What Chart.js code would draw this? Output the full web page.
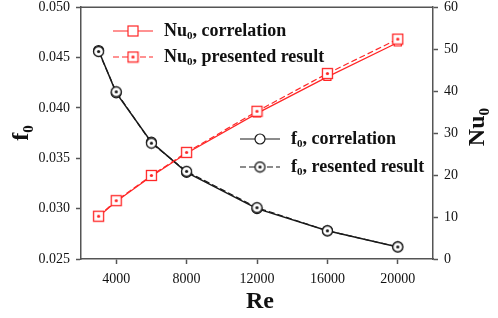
<!DOCTYPE html>
<html>
<head>
<meta charset="utf-8">
<script src="https://cdn.jsdelivr.net/npm/chart.js@4.4.1/dist/chart.umd.min.js"></script>
<style>
  html, body { margin: 0; padding: 0; background: #fff; }
  #wrap { width: 498px; height: 318px; }
</style>
</head>
<body>
<div id="wrap"><canvas id="graph"></canvas></div>
<script>
// Re values and tick labels
const reValues = [3000, 4000, 6000, 8000, 12000, 16000, 20000];
const reTicks = [4000, 8000, 12000, 16000, 20000];
const fTicks = [0.025, 0.030, 0.035, 0.040, 0.045, 0.050];
const nuTicks = [0, 10, 20, 30, 40, 50, 60];

// series
const nuCorrelation = [10.1, 13.7, 19.7, 25.2, 34.7, 43.4, 51.6];
const nuPresented = [10.2, 13.9, 19.9, 25.4, 35.2, 44.2, 52.4];
const fCorrelation = [0.0457, 0.0415, 0.0366, 0.0336, 0.0300, 0.0278, 0.0262];
const fPresented = [0.0456, 0.0416, 0.0365, 0.0337, 0.0301, 0.0278, 0.0262];

const red = '#ff2626';
const black = '#1a1a1a';
const serif = '"Liberation Serif", "Times New Roman", serif';

function pts(ys) {
  return reValues.map((x, i) => ({x: x, y: ys[i]}));
}

// marker with a dot in the middle
function dotMarker(color, shape) {
  let c = document.createElement('canvas');
  c.width = 13; c.height = 13;
  let g = c.getContext('2d');
  g.fillStyle = '#fff';
  g.strokeStyle = color;
  g.lineWidth = 1.3;
  if (shape == 'rect') {
    g.fillRect(1.5, 1.5, 10, 10);
    g.strokeRect(1.5, 1.5, 10, 10);
  } else {
    g.beginPath(); g.arc(6.5, 6.5, 5, 0, Math.PI * 2); g.fill(); g.stroke();
  }
  g.fillStyle = color;
  g.beginPath(); g.arc(6.5, 6.5, 1.6, 0, Math.PI * 2); g.fill();
  return c;
}
const redDot = dotMarker(red, 'rect');
const blackDot = dotMarker(black, 'circle');

// text with a subscript, draws left to right from x
function subText(ctx, x, y, base, sub, rest, size) {
  ctx.font = 'bold ' + size + 'px ' + serif;
  ctx.fillText(base, x, y);
  x += ctx.measureText(base).width;
  ctx.font = 'bold ' + Math.round(size * 0.62) + 'px ' + serif;
  ctx.fillText(sub, x, y + size * 0.28);
  x += ctx.measureText(sub).width;
  ctx.font = 'bold ' + size + 'px ' + serif;
  ctx.fillText(rest, x, y);
  return x + ctx.measureText(rest).width;
}
function subWidth(ctx, base, sub, rest, size) {
  ctx.font = 'bold ' + size + 'px ' + serif;
  let w = ctx.measureText(base + rest).width;
  ctx.font = 'bold ' + Math.round(size * 0.62) + 'px ' + serif;
  return w + ctx.measureText(sub).width;
}

const legendItems = [
  {x: 113, y: 31, color: red, dash: [], marker: 'rect', base: 'Nu', rest: ', correlation'},
  {x: 113, y: 57, color: red, dash: [6, 3], marker: redDot, base: 'Nu', rest: ', presented result'},
  {x: 240, y: 139, color: black, dash: [], marker: 'circle', base: 'f', rest: ', correlation'},
  {x: 240, y: 167, color: black, dash: [6, 3], marker: blackDot, base: 'f', rest: ', resented result'}
];

const decor = {
  id: 'decor',
  afterDraw(chart) {
    let ctx = chart.ctx;
    let a = chart.chartArea;
    ctx.save();
    // top border
    ctx.strokeStyle = '#555';
    ctx.lineWidth = 1.5;
    ctx.beginPath(); ctx.moveTo(a.left, a.top); ctx.lineTo(a.right, a.top); ctx.stroke();

    // legend
    legendItems.forEach(it => {
      ctx.strokeStyle = it.color;
      ctx.lineWidth = 1.2;
      ctx.setLineDash(it.dash);
      ctx.beginPath(); ctx.moveTo(it.x, it.y); ctx.lineTo(it.x + 40, it.y); ctx.stroke();
      ctx.setLineDash([]);
      let mx = it.x + 20;
      if (it.marker === 'rect') {
        ctx.fillStyle = '#fff';
        ctx.fillRect(mx - 5, it.y - 5, 10, 10);
        ctx.strokeRect(mx - 5, it.y - 5, 10, 10);
      } else if (it.marker === 'circle') {
        ctx.fillStyle = '#fff';
        ctx.beginPath(); ctx.arc(mx, it.y, 5, 0, Math.PI * 2); ctx.fill(); ctx.stroke();
      } else {
        ctx.drawImage(it.marker, mx - 6.5, it.y - 6.5);
      }
      ctx.fillStyle = '#111';
      ctx.textBaseline = 'middle';
      ctx.textAlign = 'left';
      subText(ctx, it.x + 51, it.y, it.base, '0', it.rest, 18);
    });

    // axis titles
    ctx.fillStyle = '#111';
    ctx.textBaseline = 'middle';
    ctx.textAlign = 'left';
    ctx.font = 'bold 24px ' + serif;
    let w = ctx.measureText('Re').width;
    ctx.fillText('Re', (a.left + a.right) / 2 - w / 2 + 3, 302);

    ctx.save();
    ctx.translate(22, (a.top + a.bottom) / 2);
    ctx.rotate(-Math.PI / 2);
    w = subWidth(ctx, 'f', '0', '', 24);
    subText(ctx, -w / 2, 0, 'f', '0', '', 24);
    ctx.restore();

    ctx.save();
    ctx.translate(478, (a.top + a.bottom) / 2 - 6);
    ctx.rotate(-Math.PI / 2);
    w = subWidth(ctx, 'Nu', '0', '', 24);
    subText(ctx, -w / 2, 0, 'Nu', '0', '', 24);
    ctx.restore();
    ctx.restore();
  }
};

function axisGrid() {
  return {
    display: true,
    drawOnChartArea: false,
    drawTicks: true,
    tickLength: 5,
    tickWidth: 1.5,
    tickColor: '#555'
  };
}
const tickFont = {family: serif, size: 14};

const dataGraph = {
  datasets: [
    {
      label: 'Nu0, correlation',
      data: pts(nuCorrelation),
      yAxisID: 'y1',
      order: 2,
      borderColor: red,
      backgroundColor: '#fff',
      borderWidth: 1.2,
      pointStyle: 'rect',
      pointRadius: 5,
      pointBorderWidth: 1.2
    },
    {
      label: 'Nu0, presented result',
      data: pts(nuPresented),
      yAxisID: 'y1',
      order: 1,
      borderColor: red,
      backgroundColor: '#fff',
      borderWidth: 1.2,
      borderDash: [6, 3],
      pointStyle: redDot,
      pointRadius: 6
    },
    {
      label: 'f0, correlation',
      data: pts(fCorrelation),
      yAxisID: 'y',
      order: 2,
      borderColor: black,
      backgroundColor: '#fff',
      borderWidth: 1.5,
      pointStyle: 'circle',
      pointRadius: 5,
      pointBorderWidth: 1.2
    },
    {
      label: 'f0, resented result',
      data: pts(fPresented),
      yAxisID: 'y',
      order: 1,
      borderColor: black,
      backgroundColor: '#fff',
      borderWidth: 1.2,
      borderDash: [6, 3],
      pointStyle: blackDot,
      pointRadius: 6
    }
  ]
};

const configGraph = {
  type: 'line',
  data: dataGraph,
  plugins: [decor],
  options: {
    responsive: false,
    animation: false,
    layout: {padding: {top: 6, left: 0, right: 0, bottom: 0}},
    plugins: {
      legend: {display: false},
      tooltip: {enabled: false}
    },
    scales: {
      x: {
        type: 'linear',
        min: 2000,
        max: 22000,
        grid: axisGrid(),
        border: {display: true, color: '#555', width: 1.5},
        afterBuildTicks: s => { s.ticks = reTicks.map(v => ({value: v})); },
        afterFit: s => { s.height = 59; s.paddingLeft = 0; s.paddingRight = 0; },
        ticks: {color: '#111', font: tickFont, padding: 7, maxRotation: 0, callback: v => String(v)}
      },
      y: {
        type: 'linear',
        position: 'left',
        min: 0.025,
        max: 0.050,
        grid: axisGrid(),
        border: {display: true, color: '#555', width: 1.5},
        afterBuildTicks: s => { s.ticks = fTicks.map(v => ({value: v})); },
        afterFit: s => { s.width = 81; s.paddingTop = 0; s.paddingBottom = 0; },
        ticks: {color: '#111', font: tickFont, padding: 6, callback: v => v.toFixed(3)}
      },
      y1: {
        type: 'linear',
        position: 'right',
        min: 0,
        max: 60,
        grid: axisGrid(),
        border: {display: true, color: '#555', width: 1.5},
        afterBuildTicks: s => { s.ticks = nuTicks.map(v => ({value: v})); },
        afterFit: s => { s.width = 65; s.paddingTop = 0; s.paddingBottom = 0; },
        ticks: {color: '#111', font: tickFont, padding: 6, callback: v => String(v)}
      }
    }
  }
};

let canvas = document.getElementById('graph');
canvas.width = 498;
canvas.height = 318;
let graphVisible = new Chart(canvas, configGraph);
</script>
</body>
</html>
